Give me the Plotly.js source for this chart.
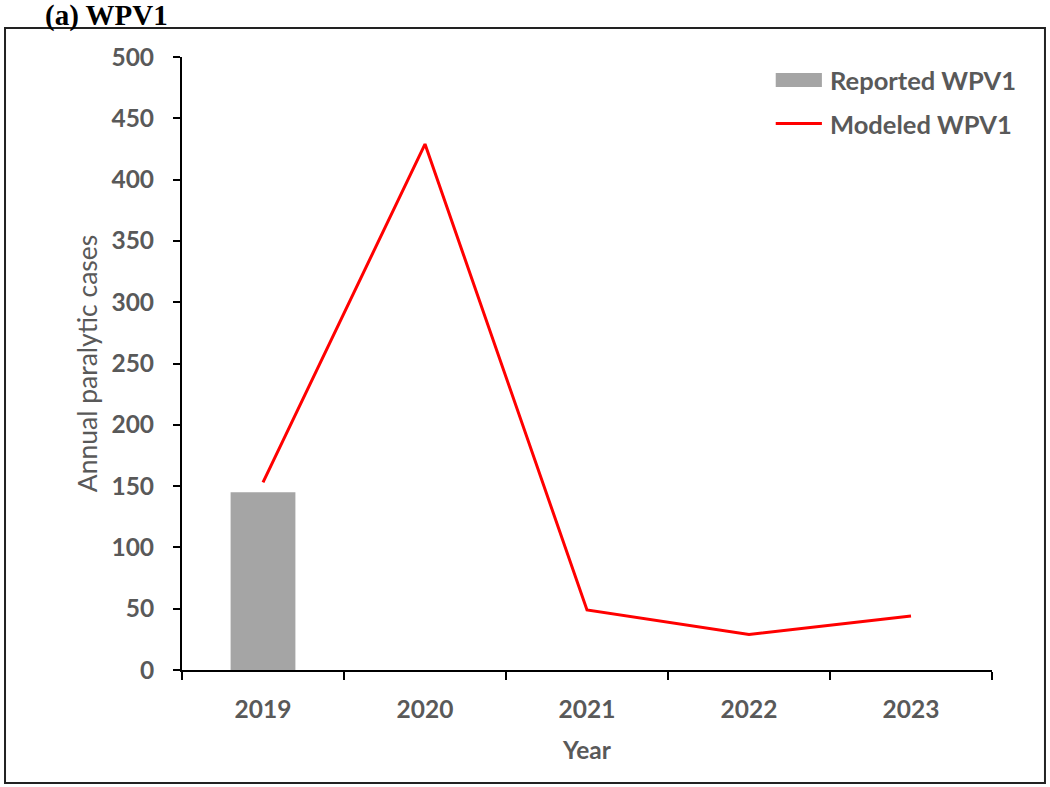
<!DOCTYPE html>
<html>
<head>
<meta charset="utf-8">
<script src="https://cdn.plot.ly/plotly-3.0.1.min.js"></script>
<style>
  html, body { margin: 0; padding: 0; background: #ffffff; }
  #chart { width: 1050px; height: 787px; }
</style>
</head>
<body>
<div id="chart"></div>
<script>
// ---- data ----
const years = ['2019', '2020', '2021', '2022', '2023'];
const reportedYears = ['2019'];
const reportedWPV1 = [145];
const modeledWPV1 = [153, 429, 49, 29, 44];
const yTicks = [0, 50, 100, 150, 200, 250, 300, 350, 400, 450, 500];

const grey = '#595959';
const fontFam = 'Lato, "Open Sans", sans-serif';

const traces = [
  {
    type: 'bar',
    name: 'Reported WPV1',
    x: reportedYears,
    y: reportedWPV1,
    width: 0.4,
    marker: { color: '#A5A5A5', line: { width: 0 } },
    showlegend: false,
    hoverinfo: 'x+y'
  },
  {
    type: 'scatter',
    mode: 'lines',
    name: 'Modeled WPV1',
    x: years,
    y: modeledWPV1,
    line: { color: '#FF0000', width: 3 },
    showlegend: false
  }
];

const layout = {
  width: 1050,
  height: 787,
  margin: { l: 182, r: 58, t: 57, b: 117 },
  paper_bgcolor: '#ffffff',
  plot_bgcolor: '#ffffff',
  font: { family: fontFam, color: grey, size: 24 },
  xaxis: {
    type: 'category',
    categoryorder: 'array',
    categoryarray: years,
    range: [-0.5, 4.5],
    showline: true,
    linecolor: '#000000',
    linewidth: 2,
    ticks: 'outside',
    tickson: 'boundaries',
    ticklen: 8,
    tickwidth: 2,
    tickcolor: '#000000',
    showgrid: false,
    zeroline: false,
    tickfont: { family: fontFam, size: 24.5, color: grey, weight: 'bold' },
    ticklabelstandoff: 17,
    title: { text: 'Year', font: { family: fontFam, size: 24.5, color: grey, weight: 'bold' }, standoff: 19 }
  },
  yaxis: {
    range: [0, 500],
    tickmode: 'array',
    tickvals: yTicks,
    ticktext: yTicks.map(String),
    showline: true,
    linecolor: '#000000',
    linewidth: 2,
    ticks: 'outside',
    ticklen: 7,
    tickwidth: 2,
    tickcolor: '#000000',
    showgrid: false,
    zeroline: false,
    tickfont: { family: fontFam, size: 24.5, color: grey, weight: 'bold' },
    ticklabelstandoff: 14,
    title: { text: 'Annual paralytic cases', font: { family: fontFam, size: 26.5, color: grey }, standoff: 6 }
  },
  shapes: [
    // outer frame
    { type: 'rect', xref: 'paper', yref: 'paper', x0: -0.2185, x1: 1.0654, y0: -0.1843, y1: 1.0473,
      line: { color: '#222222', width: 2 }, fillcolor: 'rgba(0,0,0,0)', layer: 'below' },
    // legend swatches
    { type: 'rect', xref: 'paper', yref: 'paper', x0: 0.733, x1: 0.79, y0: 0.974, y1: 0.951,
      fillcolor: '#A5A5A5', line: { width: 0 } },
    { type: 'line', xref: 'paper', yref: 'paper', x0: 0.733, x1: 0.79, y0: 0.8915, y1: 0.8915,
      line: { color: '#FF0000', width: 3 } }
  ],
  annotations: [
    { xref: 'paper', yref: 'paper', x: 0.798, y: 0.963, xanchor: 'left', yanchor: 'middle', showarrow: false,
      text: 'Reported WPV1', font: { family: fontFam, size: 25.5, color: grey, weight: 'bold' } },
    { xref: 'paper', yref: 'paper', x: 0.798, y: 0.8915, xanchor: 'left', yanchor: 'middle', showarrow: false,
      text: 'Modeled WPV1', font: { family: fontFam, size: 25.5, color: grey, weight: 'bold' } },
    { xref: 'paper', yref: 'paper', x: -0.171, y: 1.0685, xanchor: 'left', yanchor: 'middle', showarrow: false,
      text: '(a) WPV1', font: { family: '"Liberation Serif", "Times New Roman", serif', size: 29, color: '#000000', weight: 'bold' } }
  ]
};

Plotly.newPlot('chart', traces, layout, { displayModeBar: false, staticPlot: true });
</script>
</body>
</html>
